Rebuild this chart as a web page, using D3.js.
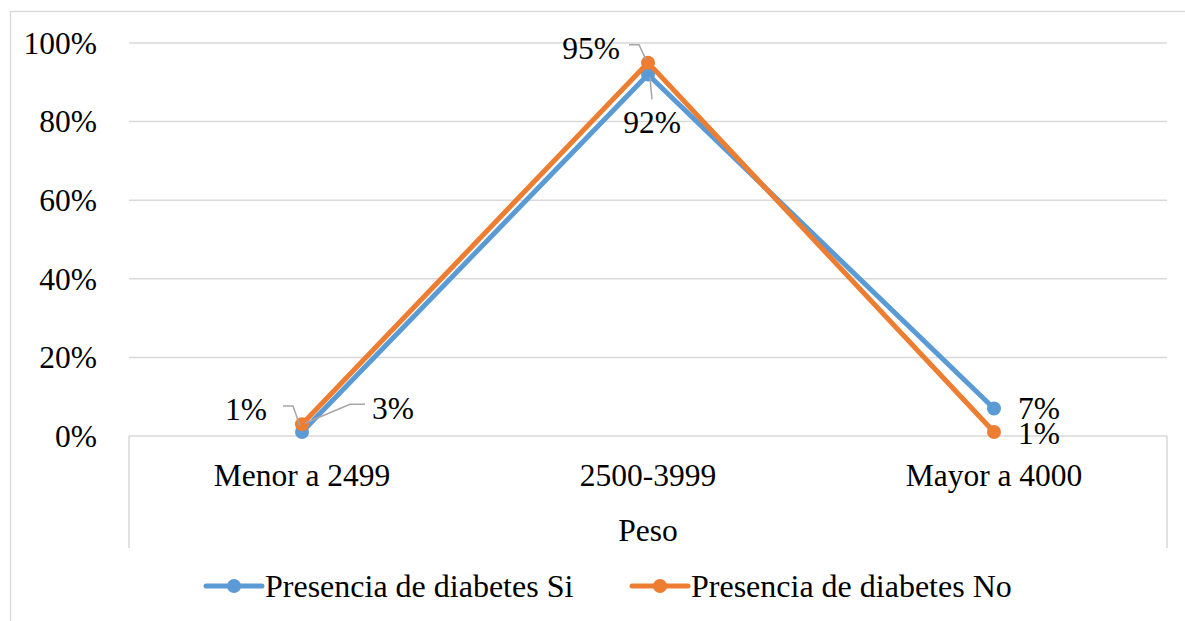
<!DOCTYPE html>
<html>
<head>
<meta charset="utf-8">
<script src="https://cdn.jsdelivr.net/npm/d3@7"></script>
<style>
  html, body { margin: 0; padding: 0; background: #fff; }
  svg { display: block; font-family: "Liberation Serif", "Times New Roman", serif; }
</style>
</head>
<body>
<svg id="chart" width="1185" height="621"></svg>
<script>
// Birth weight categories and share (%) per diabetes group
const categories = ["Menor a 2499", "2500-3999", "Mayor a 4000"];
const seriesNames = ["Presencia de diabetes Si", "Presencia de diabetes No"];
const valuesSi = [1, 92, 7];
const valuesNo = [3, 95, 1];
const yTicks = [0, 20, 40, 60, 80, 100];
const axisTitle = "Peso";

const colors = ["#5b9bd5", "#ed7d31"];
const grid = "#d9d9d9";
const fontSize = 31.5;
const legendFontSize = 32;

const svg = d3.select("#chart");

// outer chart frame
svg.append("rect")
  .attr("x", 10.5).attr("y", 11.5)
  .attr("width", 1200).attr("height", 700)
  .attr("fill", "none").attr("stroke", grid).attr("stroke-width", 1.3);

const plot = { left: 129, right: 1167, top: 43, bottom: 436 };

const x = d3.scaleBand().domain(categories).range([plot.left, plot.right]);
const y = d3.scaleLinear().domain([0, 100]).range([plot.bottom, plot.top]);
const cx = c => x(c) + x.bandwidth() / 2;

// horizontal gridlines
svg.append("g").selectAll("line").data(yTicks).join("line")
  .attr("x1", plot.left).attr("x2", plot.right)
  .attr("y1", d => y(d)).attr("y2", d => y(d))
  .attr("stroke", grid).attr("stroke-width", 1.5);

// y-axis labels
svg.append("g").selectAll("text").data(yTicks).join("text")
  .attr("x", 97).attr("y", d => y(d))
  .attr("dy", "0.34em")
  .attr("text-anchor", "end")
  .attr("font-size", fontSize)
  .text(d => d + "%");

// category axis boundary lines (two-level axis)
[plot.left, plot.right].forEach(px => {
  svg.append("line")
    .attr("x1", px).attr("x2", px)
    .attr("y1", plot.bottom).attr("y2", 548)
    .attr("stroke", grid).attr("stroke-width", 1.5);
});

// category labels
svg.append("g").selectAll("text").data(categories).join("text")
  .attr("x", d => cx(d)).attr("y", 486)
  .attr("text-anchor", "middle")
  .attr("font-size", fontSize)
  .text(d => d);

svg.append("text")
  .attr("x", cx(categories[1])).attr("y", 541)
  .attr("text-anchor", "middle")
  .attr("font-size", fontSize)
  .text(axisTitle);

// series lines and markers
const series = [
  { name: seriesNames[0], values: valuesSi, color: colors[0] },
  { name: seriesNames[1], values: valuesNo, color: colors[1] }
];

const line = d3.line()
  .x((d, i) => cx(categories[i]))
  .y(d => y(d));

series.forEach(s => {
  const g = svg.append("g");
  g.append("path")
    .attr("d", line(s.values))
    .attr("fill", "none")
    .attr("stroke", s.color)
    .attr("stroke-width", 5)
    .attr("stroke-linejoin", "round")
    .attr("stroke-linecap", "round");
  g.selectAll("circle").data(s.values).join("circle")
    .attr("cx", (d, i) => cx(categories[i]))
    .attr("cy", d => y(d))
    .attr("r", 7)
    .attr("fill", s.color);
});

// data labels with leader lines
// each entry: series index, category index, text offset (dx, dy of baseline), anchor, leader path offsets
const labelSpecs = [
  { s: 0, c: 0, dx: -35, dy: -12, anchor: "end",
    leader: [[-19, -26], [-9, -26], [-2, -6]] },
  { s: 1, c: 0, dx: 70, dy: -5, anchor: "start",
    leader: [[63, -20], [48, -20], [3, -1]] },
  { s: 1, c: 1, dx: -28, dy: -4, anchor: "end",
    leader: [[-19, -18], [-9, -18], [-2, -3]] },
  { s: 0, c: 1, dx: 4, dy: 59, anchor: "middle",
    leader: [[2, 3], [4, 25]] },
  { s: 0, c: 2, dx: 24, dy: 11, anchor: "start", leader: null },
  { s: 1, c: 2, dx: 24, dy: 12, anchor: "start", leader: null }
];

const labels = svg.append("g");
labelSpecs.forEach(l => {
  const v = series[l.s].values[l.c];
  const px = cx(categories[l.c]);
  const py = y(v);
  if (l.leader) {
    labels.append("polyline")
      .attr("points", l.leader.map(p => [px + p[0], py + p[1]].join(",")).join(" "))
      .attr("fill", "none")
      .attr("stroke", "#a6a6a6")
      .attr("stroke-width", 1.5);
  }
  labels.append("text")
    .attr("x", px + l.dx).attr("y", py + l.dy)
    .attr("text-anchor", l.anchor)
    .attr("font-size", fontSize)
    .text(v + "%");
});

// legend
const legendItems = [
  { x: 206, s: series[0] },
  { x: 632, s: series[1] }
];
const ly = 586;
legendItems.forEach(item => {
  const g = svg.append("g");
  g.append("line")
    .attr("x1", item.x).attr("x2", item.x + 56)
    .attr("y1", ly).attr("y2", ly)
    .attr("stroke", item.s.color).attr("stroke-width", 5)
    .attr("stroke-linecap", "round");
  g.append("circle")
    .attr("cx", item.x + 28).attr("cy", ly).attr("r", 7)
    .attr("fill", item.s.color);
  g.append("text")
    .attr("x", item.x + 59).attr("y", ly).attr("dy", "0.34em")
    .attr("font-size", legendFontSize)
    .text(item.s.name);
});
</script>
</body>
</html>
